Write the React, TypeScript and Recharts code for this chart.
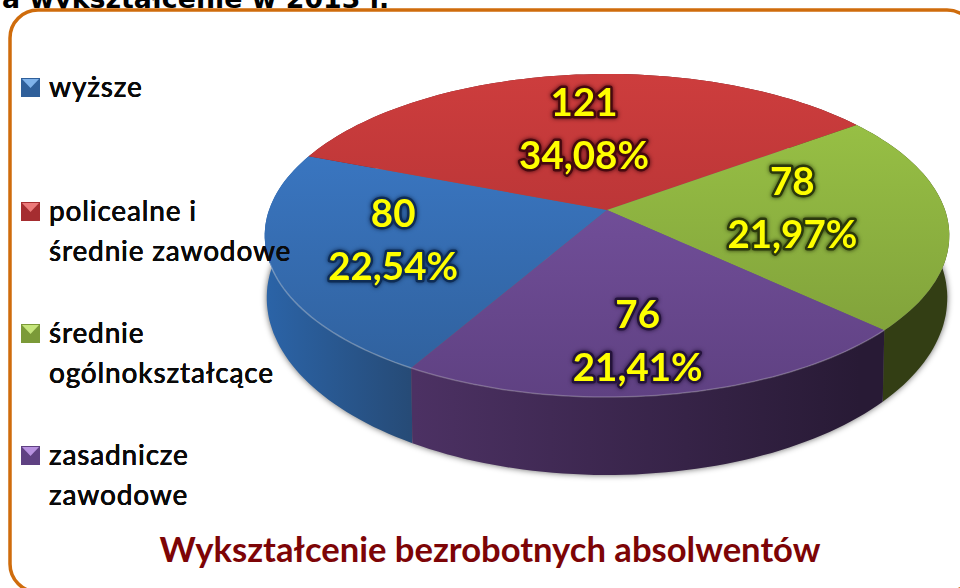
import { PieChart, Pie, Legend } from 'recharts'

const categories = ['wyższe', 'policealne i\nśrednie zawodowe', 'średnie\nogólnokształcące', 'zasadnicze\nzawodowe']
const counts = [80, 121, 78, 76]

const table = categories.map((name, slot) => ({ name, slot, value: counts[slot] }))

// colours per slice: face top, face bottom, wall left, wall right, label halo
const faceTop = ['#3d7dcd', '#cd3d3d', '#9cc647', '#7d57a8']
const faceBottom = ['#2f5f9a', '#a52d30', '#7b9a38', '#5f4182']
const wallLeft = ['#2b63a6', '#7a1f20', '#36421a', '#4c3163']
const wallRight = ['#264a75', '#5a1516', '#333e14', '#281a35']
const halo = ['#0e2c55', '#45090f', '#2a380c', '#24133a']
const markerLight = ['#7fb2ea', '#ec7a7a', '#c6e67c', '#b892e0']
const rimLight = [0.28, 0, 0, 0.22]
const labelNudge = [[-12, -5], [0, -2], [-19, -10], [-5, 18]]
const legendTops = [73, 197, 319, 441]

// the pie is a flat disc seen in perspective
const persp = 0.158
const topDisc = { rx: 338, ry: 157.5, dx: 0, dy: 0 }
const baseDisc = { rx: 336, ry: 172.6, dx: 0, dy: 60 }

function project(cx: number, cy: number, deg: number, disc: typeof topDisc, reach = 1) {
  const a = (-deg * Math.PI) / 180
  const d = 1 - persp * Math.sin(a)
  return [cx + disc.dx + (reach * disc.rx * Math.cos(a)) / d, cy + disc.dy + (reach * disc.ry * Math.sin(a)) / d]
}

function arc(cx: number, cy: number, from: number, to: number, disc: typeof topDisc) {
  const steps = Math.ceil(Math.abs(to - from) / 1.5)
  const pts: number[][] = []
  for (let i = 0; i <= steps; i++) pts.push(project(cx, cy, from + ((to - from) * i) / steps, disc))
  return pts
}

const toPath = (pts: number[][]) => pts.map((p, i) => `${i ? 'L' : 'M'}${p[0].toFixed(1)} ${p[1].toFixed(1)}`).join(' ')

function ShadowSlice(props: any) {
  const { cx, cy, startAngle, endAngle } = props
  const base = arc(cx, cy, startAngle, endAngle, baseDisc)
  return <path d={`M${cx} ${cy + baseDisc.dy} ` + toPath(base).replace('M', 'L') + ' Z'} fill="#000" fillOpacity={0.6} filter="url(#softShadow)" />
}

function WallSlice(props: any) {
  const { cx, cy, startAngle, endAngle, slot } = props
  const rim = arc(cx, cy, startAngle, endAngle, topDisc)
  const base = arc(cx, cy, startAngle, endAngle, baseDisc).reverse()
  return <path d={toPath(rim.concat(base)) + ' Z'} fill={`url(#wall${slot})`} />
}

function FaceSlice(props: any) {
  const { cx, cy, startAngle, endAngle, slot } = props
  const rim = arc(cx, cy, startAngle, endAngle, topDisc)
  const front = rim.filter((p) => p[1] > cy + 50)
  return (
    <g>
      <path d={`M${cx} ${cy} ` + toPath(rim).replace('M', 'L') + ' Z'} fill={`url(#face${slot})`} />
      {rimLight[slot] > 0 && <path d={toPath(front)} fill="none" stroke="#fff" strokeOpacity={rimLight[slot]} strokeWidth={1.5} />}
    </g>
  )
}

function SliceLabel(props: any) {
  const { cx, cy, midAngle, slot, value, percent } = props
  const [x, y] = project(cx, cy, midAngle, topDisc, 0.6)
  const lx = x + labelNudge[slot][0]
  const ly = y + labelNudge[slot][1]
  const style = {
    paintOrder: 'stroke',
    stroke: halo[slot],
    strokeWidth: 5,
    strokeLinejoin: 'round',
    filter: `drop-shadow(0 0 2px ${halo[slot]})`,
  } as React.CSSProperties
  const common = {
    x: lx,
    textAnchor: 'middle' as const,
    dominantBaseline: 'central' as const,
    fill: '#ffff00',
    fontFamily: 'Lato',
    fontWeight: 700,
    fontSize: 38.5,
    style,
  }
  return (
    <g>
      <text {...common} y={ly - 26}>{value}</text>
      <text {...common} y={ly + 27}>{(percent * 100).toFixed(2).replace('.', ',') + '%'}</text>
    </g>
  )
}

function LegendMarker({ slot }: { slot: number }) {
  return (
    <svg width={19} height={19} style={{ position: 'absolute', left: 21, top: 5 }}>
      <rect x={0} y={0} width={19} height={19} fill={faceBottom[slot]} />
      <path d="M1 1 L18 1 L9.5 10 Z" fill={markerLight[slot]} />
    </svg>
  )
}

function LegendList({ payload }: any) {
  return (
    <div style={{ position: 'relative', width: 300, height: 500 }}>
      {(payload || []).map((entry: any) => {
        const slot = categories.indexOf(entry.value)
        if (slot < 0) return null
        return (
          <div key={entry.value} style={{ position: 'absolute', left: 0, top: legendTops[slot], width: 300 }}>
            <LegendMarker slot={slot} />
            <div style={{
              marginLeft: 49, fontFamily: 'Lato', fontWeight: 500, fontSize: 28, letterSpacing: 0.8, lineHeight: '39.5px',
              color: '#0a0a0a', whiteSpace: 'pre-line', marginTop: -6,
            }}>
              {entry.value}
            </div>
          </div>
        )
      })}
    </div>
  )
}

export default function App() {
  return (
    <div style={{ position: 'absolute', left: 0, top: 0, width: 960, height: 588, overflow: 'hidden', background: '#fff' }}>
      <PieChart width={960} height={588} margin={{ top: 0, right: 0, bottom: 0, left: 0 }}>
        <defs>
          <filter id="softShadow" x="-10%" y="-10%" width="120%" height="120%">
            <feGaussianBlur stdDeviation="3" />
          </filter>
          {categories.map((_, i) => (
            <linearGradient key={i} id={`face${i}`} gradientUnits="userSpaceOnUse" x1={0} y1={74} x2={0} y2={397}>
              <stop offset="0%" stopColor={faceTop[i]} />
              <stop offset="100%" stopColor={faceBottom[i]} />
            </linearGradient>
          ))}
          {categories.map((_, i) => (
            <linearGradient key={i} id={`wall${i}`} gradientUnits="userSpaceOnUse"
              x1={i === 0 ? 270 : 415} y1={0} x2={i === 0 ? 415 : 860} y2={0}>
              <stop offset="0%" stopColor={wallLeft[i]} />
              <stop offset="100%" stopColor={wallRight[i]} />
            </linearGradient>
          ))}
        </defs>
        <text x={2} y={8} fontFamily="DejaVu Sans" fontWeight={700} fontSize={26.8} fill="#000">a wykształcenie w 2013 r.</text>
        <rect x={10} y={10} width={965} height={582} rx={28} fill="#fff" stroke="#cf6c0c" strokeWidth={3.5} />
        <Pie data={table} dataKey="value" nameKey="name" cx={607} cy={210} outerRadius={150} startAngle={-120} endAngle={-480}
          shape={ShadowSlice} legendType="none" isAnimationActive={false} />
        <Pie data={table} dataKey="value" nameKey="name" cx={607} cy={210} outerRadius={150} startAngle={-120} endAngle={-480}
          shape={WallSlice} legendType="none" isAnimationActive={false} />
        <Pie data={table} dataKey="value" nameKey="name" cx={607} cy={210} outerRadius={150} startAngle={-120} endAngle={-480}
          shape={FaceSlice} label={SliceLabel} labelLine={false} isAnimationActive={false} />
        <text x={490} y={562} textAnchor="middle" fontFamily="Lato" fontWeight={700} fontSize={34.6} fill="#7d0406">
          Wykształcenie bezrobotnych absolwentów
        </text>
        <Legend content={LegendList} wrapperStyle={{ position: 'absolute', left: 0, top: 0, width: 300 }} />
      </PieChart>
    </div>
  )
}
